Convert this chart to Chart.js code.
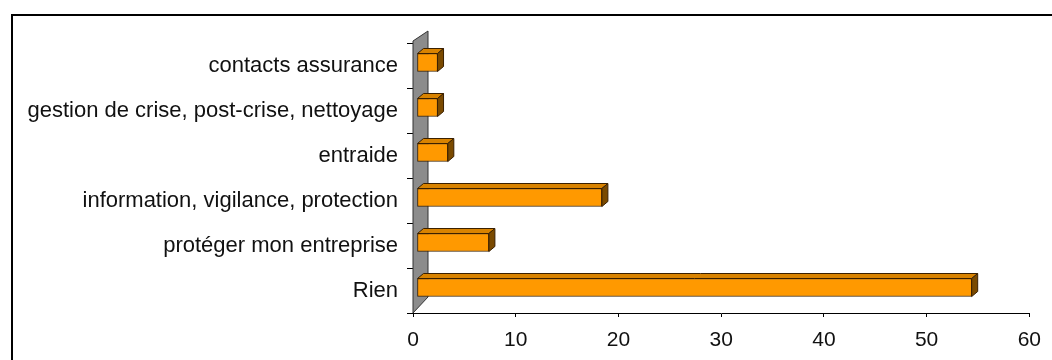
<!DOCTYPE html>
<html>
<head>
<meta charset="utf-8">
<script src="https://cdn.jsdelivr.net/npm/chart.js@4"></script>
<style>
  html, body { margin: 0; padding: 0; background: #fff; overflow: hidden; }
  #frame { position: absolute; left: 11px; top: 14px; width: 1100px; height: 400px; border: 2px solid #000; }
  #wrap { position: absolute; left: 0; top: 0; width: 1052px; height: 360px; }
</style>
</head>
<body>
<div id="frame"></div>
<div id="wrap"><canvas id="chart"></canvas></div>
<script>
// Data
const categories = [
  'contacts assurance',
  'gestion de crise, post-crise, nettoyage',
  'entraide',
  'information, vigilance, protection',
  'protéger mon entreprise',
  'Rien'
];
const values = [2, 2, 3, 18, 7, 54];
const xTicks = [0, 10, 20, 30, 40, 50, 60];

// Fake 3D look: grey wall behind the bars, top + side faces on each bar
const depth3d = {
  id: 'depth3d',
  beforeDatasetsDraw(chart) {
    const ctx = chart.ctx;
    const a = chart.chartArea;
    ctx.save();
    ctx.beginPath();
    ctx.moveTo(a.left, a.top - 2);
    ctx.lineTo(a.left + 15, a.top - 12);
    ctx.lineTo(a.left + 15, a.bottom - 16);
    ctx.lineTo(a.left, a.bottom);
    ctx.closePath();
    ctx.fillStyle = '#8c8c8c';
    ctx.fill();
    ctx.strokeStyle = '#333';
    ctx.lineWidth = 1;
    ctx.stroke();
    ctx.restore();

    // bars sit a little inside the depth
    ctx.save();
    ctx.translate(4, -3);
  },
  afterDatasetsDraw(chart) {
    const ctx = chart.ctx;
    const meta = chart.getDatasetMeta(0);
    const dx = 6, dy = -5;
    meta.data.forEach(bar => {
      const x0 = bar.base, x1 = bar.x;
      const yT = bar.y - bar.height / 2, yB = bar.y + bar.height / 2;
      ctx.lineWidth = 1;
      ctx.strokeStyle = '#3a2000';
      // top face
      ctx.beginPath();
      ctx.moveTo(x0, yT);
      ctx.lineTo(x0 + dx, yT + dy);
      ctx.lineTo(x1 + dx, yT + dy);
      ctx.lineTo(x1, yT);
      ctx.closePath();
      ctx.fillStyle = '#d98300';
      ctx.fill();
      ctx.stroke();
      // side face
      ctx.beginPath();
      ctx.moveTo(x1, yT);
      ctx.lineTo(x1 + dx, yT + dy);
      ctx.lineTo(x1 + dx, yB + dy);
      ctx.lineTo(x1, yB);
      ctx.closePath();
      ctx.fillStyle = '#7a4a00';
      ctx.fill();
      ctx.stroke();
    });
    ctx.restore();
  }
};

new Chart(document.getElementById('chart'), {
  type: 'bar',
  data: {
    labels: categories,
    datasets: [{
      data: values,
      backgroundColor: '#ff9900',
      borderColor: '#3a2000',
      borderWidth: 1,
      borderSkipped: false,
      barThickness: 18
    }]
  },
  options: {
    indexAxis: 'y',
    responsive: true,
    maintainAspectRatio: false,
    animation: false,
    layout: { padding: { top: 43, right: 20, left: 0, bottom: 0 } },
    plugins: {
      legend: { display: false },
      tooltip: { enabled: false }
    },
    scales: {
      x: {
        min: xTicks[0],
        max: xTicks[xTicks.length - 1],
        afterBuildTicks(scale) {
          scale.ticks = xTicks.map(v => ({ value: v }));
        },
        afterFit(scale) { scale.height = 47; },
        grid: { drawOnChartArea: false, color: '#000', tickLength: 4 },
        border: { display: true, color: '#000', width: 1 },
        ticks: {
          color: '#111',
          padding: 11,
          maxRotation: 0,
          font: { family: 'Liberation Sans, Arial, sans-serif', size: 21 }
        }
      },
      y: {
        afterFit(scale) { scale.width = 413; },
        grid: { drawOnChartArea: false, color: '#000', tickLength: 6, offset: true },
        border: { display: true, color: '#000', width: 1 },
        ticks: {
          color: '#111',
          padding: 9,
          font: { family: 'Liberation Sans, Arial, sans-serif', size: 22 }
        }
      }
    }
  },
  plugins: [depth3d]
});
</script>
</body>
</html>
